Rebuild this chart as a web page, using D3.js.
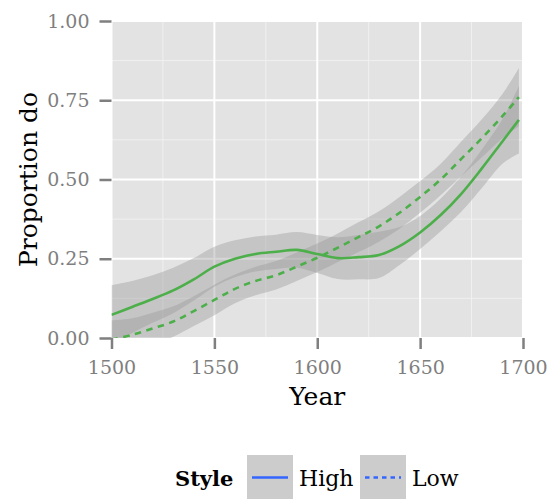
<!DOCTYPE html>
<html><head><meta charset="utf-8">
<script src="https://cdn.jsdelivr.net/npm/d3@7"></script>
<style>body{margin:0;background:#fff}svg{display:block}</style>
</head><body><svg id="c" width="550" height="500"></svg>
<script>
const years = [1500,1510,1520,1530,1540,1550,1560,1570,1580,1590,1600,1610,1620,1630,1640,1650,1660,1670,1680,1690,1698];
const highFit = [0.073,0.098,0.123,0.150,0.185,0.225,0.250,0.265,0.272,0.278,0.265,0.252,0.255,0.262,0.290,0.333,0.388,0.455,0.535,0.620,0.688];
const highLo  = [-0.021,0.016,0.048,0.078,0.118,0.162,0.192,0.210,0.218,0.222,0.205,0.186,0.185,0.189,0.230,0.281,0.337,0.398,0.473,0.550,0.582];
const highHi  = [0.167,0.180,0.198,0.222,0.252,0.288,0.308,0.320,0.326,0.334,0.325,0.318,0.325,0.335,0.350,0.385,0.440,0.510,0.595,0.690,0.795];
const lowFit  = [-0.005,0.010,0.030,0.052,0.085,0.120,0.155,0.180,0.198,0.225,0.253,0.285,0.318,0.352,0.395,0.445,0.500,0.565,0.630,0.700,0.760];
const lowLo   = [-0.065,-0.042,-0.020,0.004,0.038,0.072,0.110,0.135,0.153,0.180,0.208,0.240,0.271,0.304,0.345,0.395,0.450,0.510,0.570,0.630,0.668];
const lowHi   = [0.055,0.062,0.080,0.100,0.132,0.168,0.200,0.225,0.243,0.270,0.298,0.330,0.365,0.400,0.445,0.495,0.550,0.620,0.690,0.770,0.852];
const xTicks = [1500,1550,1600,1650,1700];
const yTicks = [0,0.25,0.5,0.75,1];
const xMinor = [1525,1575,1625,1675];
const yMinor = [0.125,0.375,0.625,0.875];
const styles = ["High","Low"];

const svg = d3.select("#c");
const L = 111.5, R = 523, T = 21, B = 338;
const x = d3.scaleLinear().domain([1500,1700]).range([L,R]);
const y = d3.scaleLinear().domain([0,1]).range([B,T]);
const font = "'DejaVu Serif', serif";

svg.append("defs").append("clipPath").attr("id","clip")
  .append("rect").attr("x",L).attr("y",T).attr("width",R-L).attr("height",B-T);

svg.append("rect").attr("x",L).attr("y",T).attr("width",R-L).attr("height",B-T).attr("fill","#E3E3E3");

const grid = svg.append("g");
grid.selectAll(".vmin").data(xMinor).join("line").attr("x1",d=>x(d)).attr("x2",d=>x(d)).attr("y1",T).attr("y2",B).attr("stroke","#F0F0F0").attr("stroke-width",1);
grid.selectAll(".hmin").data(yMinor).join("line").attr("y1",d=>y(d)).attr("y2",d=>y(d)).attr("x1",L).attr("x2",R).attr("stroke","#F0F0F0").attr("stroke-width",1);
grid.selectAll(".vmaj").data(xTicks).join("line").attr("x1",d=>x(d)).attr("x2",d=>x(d)).attr("y1",T).attr("y2",B).attr("stroke","#fff").attr("stroke-width",2);
grid.selectAll(".hmaj").data(yTicks).join("line").attr("y1",d=>y(d)).attr("y2",d=>y(d)).attr("x1",L).attr("x2",R).attr("stroke","#fff").attr("stroke-width",2);

const plot = svg.append("g").attr("clip-path","url(#clip)");
const curve = d3.curveCatmullRom.alpha(0.5);
const area = (lo,hi)=>d3.area().x((d,i)=>x(years[i])).y0((d,i)=>y(lo[i])).y1((d,i)=>y(hi[i])).curve(curve)(years);
const line = (v)=>d3.line().x((d,i)=>x(years[i])).y((d,i)=>y(v[i])).curve(curve)(years);

plot.append("path").attr("d",area(highLo,highHi)).attr("fill","#999").attr("fill-opacity",0.4);
plot.append("path").attr("d",area(lowLo,lowHi)).attr("fill","#999").attr("fill-opacity",0.4);
plot.append("path").attr("d",line(highFit)).attr("fill","none").attr("stroke","#4DAF4A").attr("stroke-width",2.6);
plot.append("path").attr("d",line(lowFit)).attr("fill","none").attr("stroke","#4DAF4A").attr("stroke-width",2.6).attr("stroke-dasharray","6.5,5.5");

const xa = svg.append("g").attr("transform",`translate(0,${B})`)
  .call(d3.axisBottom(x).tickValues(xTicks).tickFormat(d3.format("d")).tickSize(11).tickPadding(12));
const ya = svg.append("g").attr("transform",`translate(${L},0)`)
  .call(d3.axisLeft(y).tickValues(yTicks).tickFormat(d3.format(".2f")).tickSize(12).tickPadding(10));
[xa,ya].forEach(a=>{
  a.select(".domain").remove();
  a.selectAll(".tick line").attr("stroke","#7F7F7F").attr("stroke-width",2.5);
  a.selectAll(".tick text").attr("fill","#7F7F7F").style("font-family",font).style("font-size","19px");
});

svg.append("text").attr("x",(L+R)/2).attr("y",405).attr("text-anchor","middle")
  .style("font-family",font).style("font-size","25px").attr("fill","#000").text("Year");
svg.append("text").attr("transform",`translate(37,${(T+B)/2}) rotate(-90)`).attr("text-anchor","middle")
  .style("font-family",font).style("font-size","25px").attr("fill","#000").text("Proportion do");

const leg = svg.append("g");
leg.append("text").attr("x",175).attr("y",486).style("font-family",font).style("font-size","21px")
  .style("font-weight","bold").attr("fill","#000").text("Style");
const keyX = [247,360];
const items = leg.selectAll(".k").data(styles).join("g").attr("transform",(d,i)=>`translate(${keyX[i]},455)`);
items.append("rect").attr("width",46).attr("height",44).attr("fill","#CCCCCC");
items.append("line").attr("x1",5).attr("x2",41).attr("y1",22.5).attr("y2",22.5)
  .attr("stroke","#3366FF").attr("stroke-width",2.6).attr("stroke-dasharray",(d,i)=>i? "4.5,4":null);
items.append("text").attr("x",52).attr("y",31).style("font-family",font).style("font-size","22px")
  .attr("fill","#000").text(d=>d);
</script></body></html>
